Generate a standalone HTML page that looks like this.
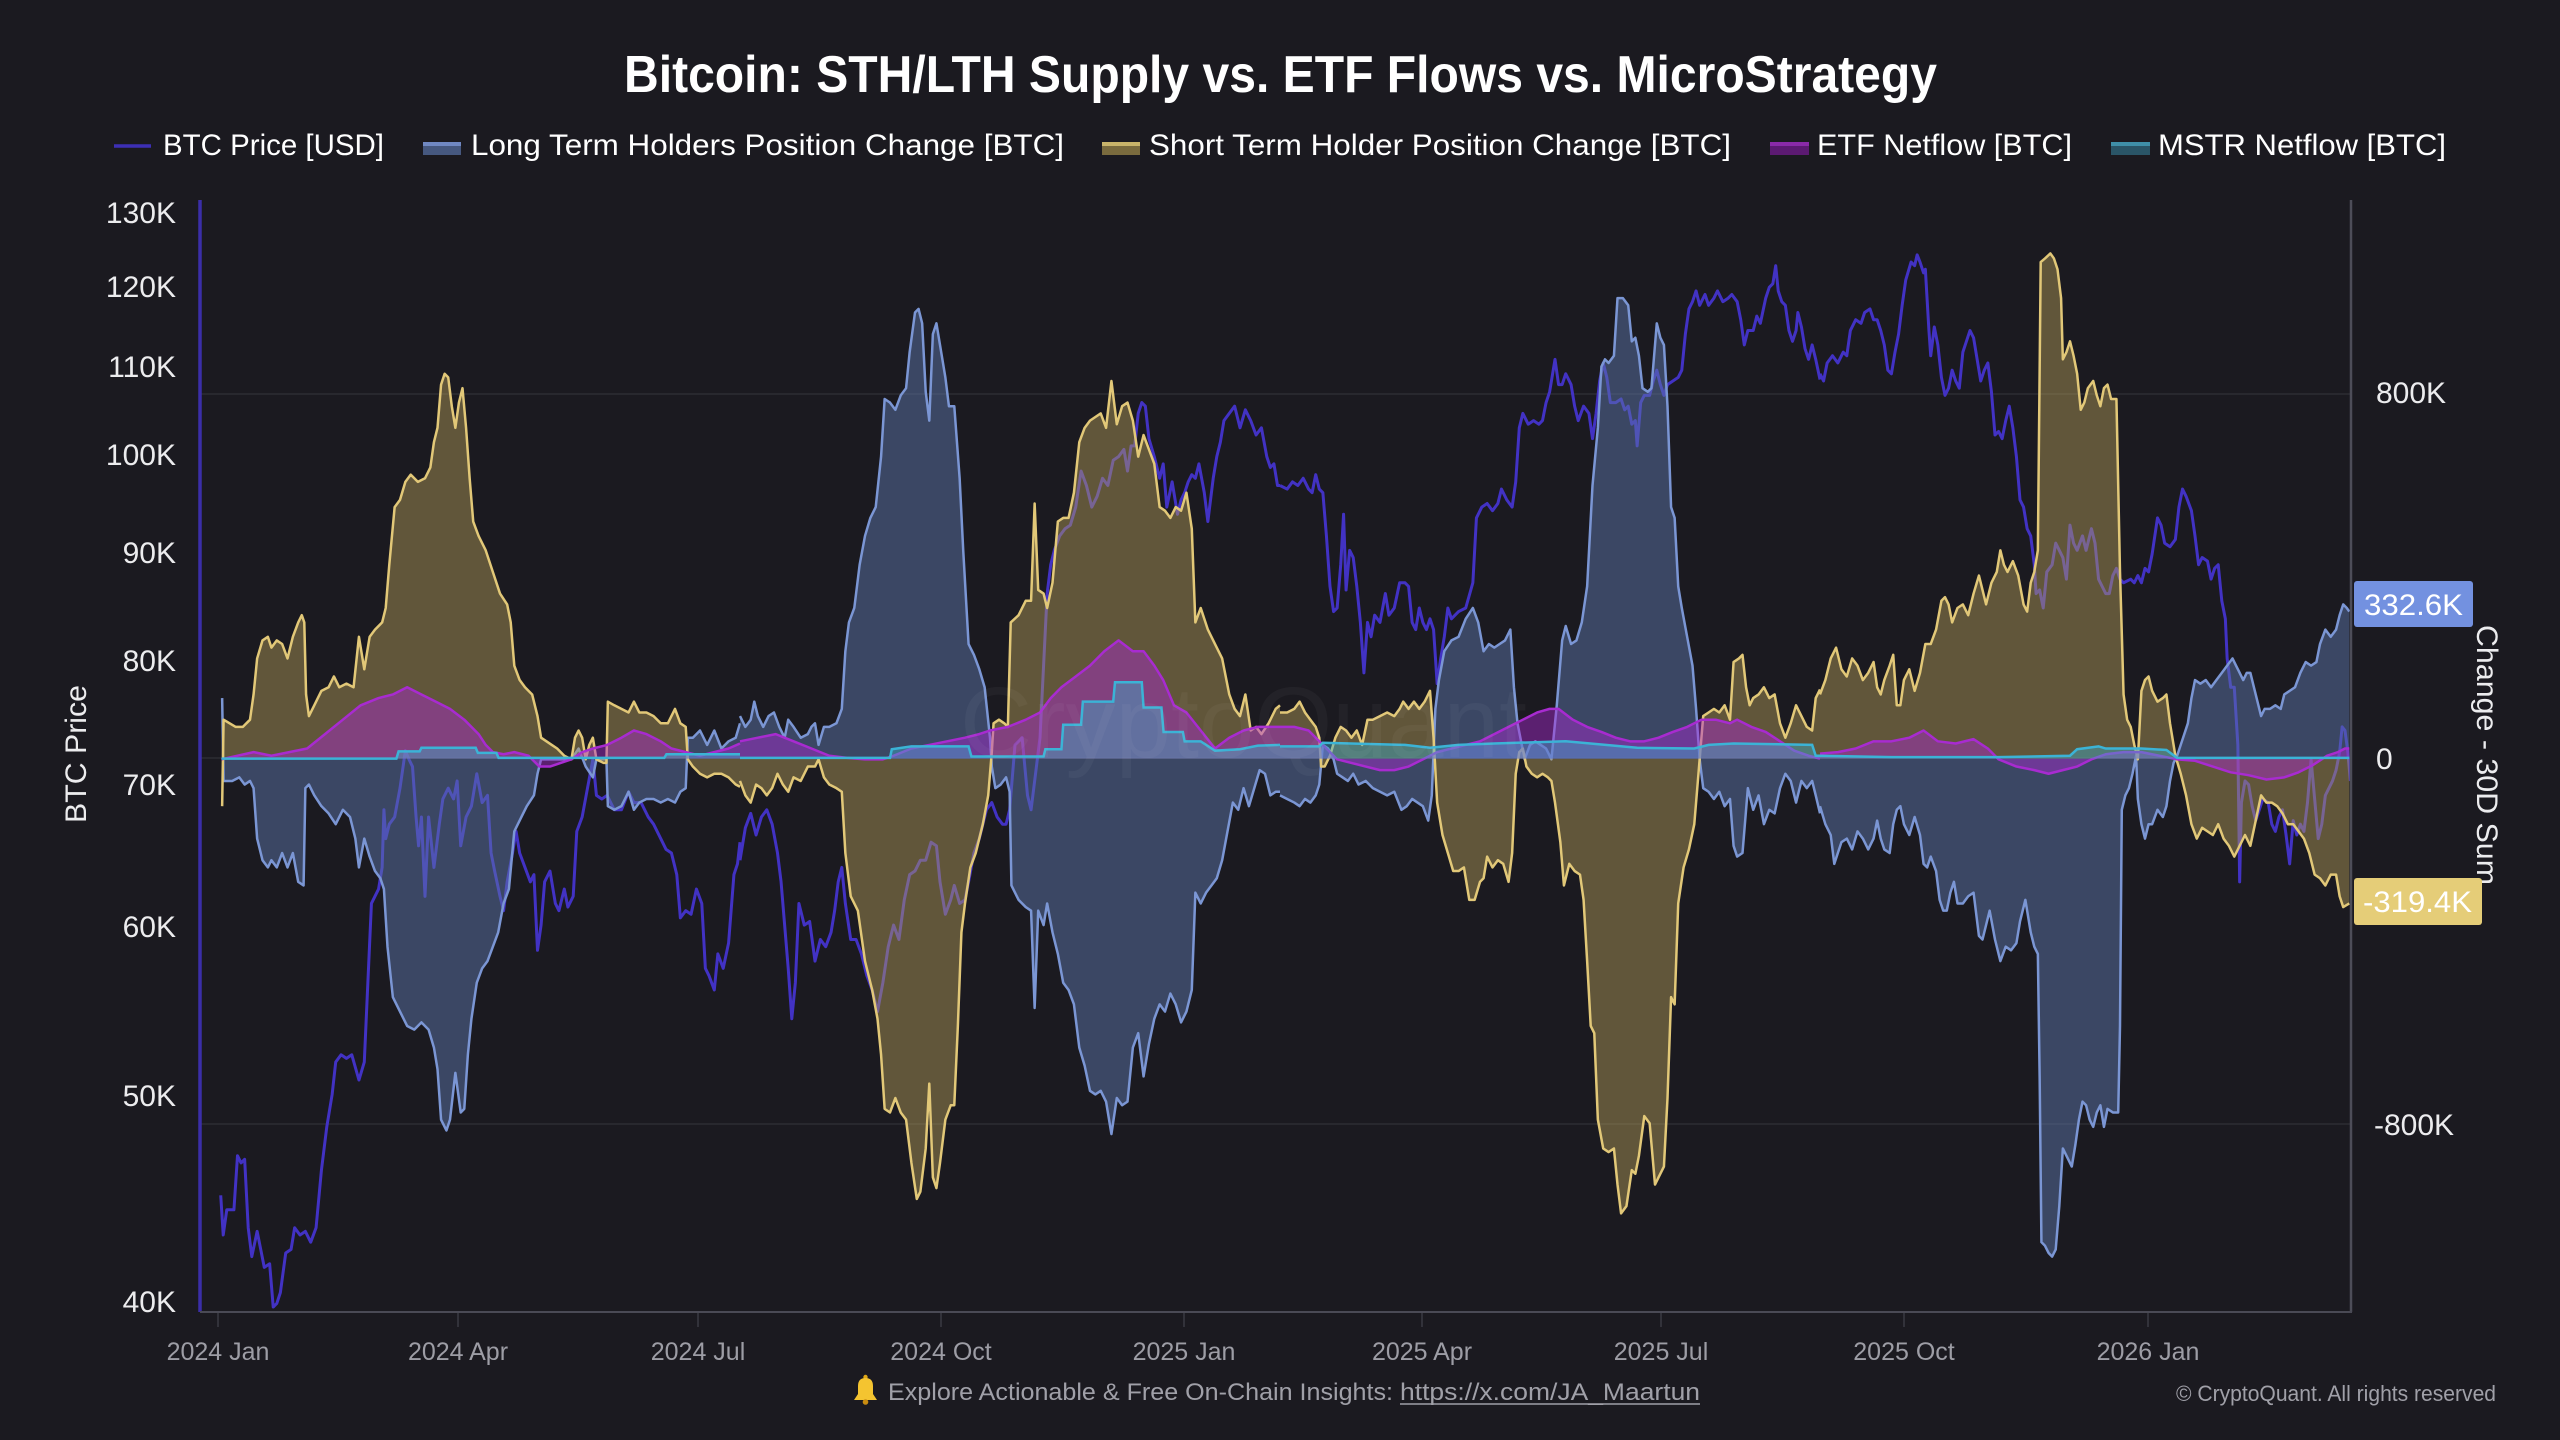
<!DOCTYPE html>
<html><head><meta charset="utf-8"><style>
html,body{margin:0;padding:0;background:#1b1a20;}
svg{display:block;}
text{font-family:"Liberation Sans",sans-serif;}
</style></head><body>
<svg width="2560" height="1440" viewBox="0 0 2560 1440" xmlns="http://www.w3.org/2000/svg">
<rect x="0" y="0" width="2560" height="1440" fill="#1b1a20"/>

<!-- Title -->
<text x="624" y="92" font-size="52" font-weight="bold" fill="#ffffff" textLength="1313" lengthAdjust="spacingAndGlyphs">Bitcoin: STH/LTH Supply vs. ETF Flows vs. MicroStrategy</text>

<!-- Legend -->
<line x1="114" y1="146" x2="151" y2="146" stroke="#3d2fb5" stroke-width="3.5"/>
<text x="163" y="155" font-size="30" fill="#ffffff" textLength="221" lengthAdjust="spacingAndGlyphs">BTC Price [USD]</text>
<rect x="423" y="142" width="38" height="13" fill="#46587f"/><rect x="423" y="142" width="38" height="4" fill="#7088c2"/>
<text x="471" y="155" font-size="30" fill="#ffffff" textLength="593" lengthAdjust="spacingAndGlyphs">Long Term Holders Position Change [BTC]</text>
<rect x="1102" y="142" width="38" height="13" fill="#7a6b3e"/><rect x="1102" y="142" width="38" height="4" fill="#c9b46a"/>
<text x="1149" y="155" font-size="30" fill="#ffffff" textLength="582" lengthAdjust="spacingAndGlyphs">Short Term Holder Position Change [BTC]</text>
<rect x="1770" y="142" width="39" height="13" fill="#5c1a72"/><rect x="1770" y="142" width="39" height="4" fill="#8a2aa8"/>
<text x="1817" y="155" font-size="30" fill="#ffffff" textLength="255" lengthAdjust="spacingAndGlyphs">ETF Netflow [BTC]</text>
<rect x="2111" y="142" width="39" height="13" fill="#2a5567"/><rect x="2111" y="142" width="39" height="4" fill="#3f8fa8"/>
<text x="2158" y="155" font-size="30" fill="#ffffff" textLength="288" lengthAdjust="spacingAndGlyphs">MSTR Netflow [BTC]</text>

<!-- Grid -->
<g stroke="#2c2c33" stroke-width="1.5">
<line x1="200" y1="394" x2="2350" y2="394"/>
<line x1="200" y1="758" x2="2350" y2="758"/>
<line x1="200" y1="1124" x2="2350" y2="1124"/>
</g>

<!-- Left axis labels -->
<g font-size="30" fill="#ececee" text-anchor="end">
<text x="176" y="223">130K</text>
<text x="176" y="297">120K</text>
<text x="176" y="377">110K</text>
<text x="176" y="465">100K</text>
<text x="176" y="563">90K</text>
<text x="176" y="671">80K</text>
<text x="176" y="795">70K</text>
<text x="176" y="937">60K</text>
<text x="176" y="1106">50K</text>
<text x="176" y="1312">40K</text>
</g>
<text transform="translate(86,754) rotate(-90)" text-anchor="middle" font-size="30" fill="#ececee" textLength="138" lengthAdjust="spacingAndGlyphs">BTC Price</text>

<!-- Right axis labels -->
<g font-size="30" fill="#ececee">
<text x="2376" y="403">800K</text>
<text x="2376" y="769">0</text>
<text x="2374" y="1135">-800K</text>
</g>

<!-- X ticks -->
<g stroke="#3a3a42" stroke-width="1.5">
<line x1="218" y1="1312" x2="218" y2="1327"/>
<line x1="458" y1="1312" x2="458" y2="1327"/>
<line x1="698" y1="1312" x2="698" y2="1327"/>
<line x1="941" y1="1312" x2="941" y2="1327"/>
<line x1="1184" y1="1312" x2="1184" y2="1327"/>
<line x1="1422" y1="1312" x2="1422" y2="1327"/>
<line x1="1661" y1="1312" x2="1661" y2="1327"/>
<line x1="1904" y1="1312" x2="1904" y2="1327"/>
<line x1="2148" y1="1312" x2="2148" y2="1327"/>
</g>
<g font-size="25" fill="#9d9da5" text-anchor="middle">
<text x="218" y="1360">2024 Jan</text>
<text x="458" y="1360">2024 Apr</text>
<text x="698" y="1360">2024 Jul</text>
<text x="941" y="1360">2024 Oct</text>
<text x="1184" y="1360">2025 Jan</text>
<text x="1422" y="1360">2025 Apr</text>
<text x="1661" y="1360">2025 Jul</text>
<text x="1904" y="1360">2025 Oct</text>
<text x="2148" y="1360">2026 Jan</text>
</g>

<!-- Series segment A -->
<g transform="translate(200,190) scale(0.357143,0.72067)">
<polyline fill="none" stroke="#4232c4" stroke-width="3" vector-effect="non-scaling-stroke" stroke-linejoin="round" points="58,1395 65,1450 75,1415 95,1415 105,1340 115,1350 125,1345 135,1440 145,1480 160,1445 170,1470 180,1495 195,1490 205,1550 215,1545 225,1530 240,1475 255,1470 265,1440 280,1450 295,1445 310,1460 325,1440 340,1360 355,1300 370,1255 380,1210 395,1200 410,1205 425,1200 445,1235 460,1210 470,1100 480,990 500,970 510,940 515,860 520,900 530,880 545,870 560,830 575,778 585,790 595,800 605,870 612,910 620,870 630,980 640,870 655,940 670,880 680,845 695,830 710,845 720,820 730,910 745,870 760,855 775,810 790,850 805,840 815,920 825,945 840,980 850,1000 860,960 875,920 885,890 895,920 910,940 925,960 935,950 945,1055 955,1020 965,960 980,945 995,990 1005,1000 1020,970 1030,995 1045,980 1055,890 1070,870 1085,830 1100,790 1110,840 1125,845 1140,840 1160,860 1180,860 1200,835 1215,850 1235,850 1255,870 1270,880 1290,900 1305,915 1320,920 1335,950 1345,1010 1360,1000 1375,1005 1390,970 1405,990 1415,1080 1425,1090 1440,1110 1450,1060 1465,1080 1480,1045 1495,950 1505,935 1512,905"/>
<polygon fill="rgba(91,116,167,0.5)" points="62,789 62,705 66,820 90,820 110,815 125,825 140,820 150,830 160,900 175,930 190,940 200,930 215,940 230,920 245,940 260,920 275,960 290,965 295,830 305,825 320,840 340,855 360,865 380,880 400,860 420,870 435,900 445,940 460,900 475,925 490,945 505,955 515,970 525,1050 540,1120 560,1140 580,1160 600,1165 620,1155 640,1165 655,1190 665,1220 675,1290 690,1305 700,1290 715,1225 730,1280 740,1275 750,1200 760,1150 775,1100 790,1080 805,1070 820,1050 835,1030 850,990 865,970 880,890 900,870 915,855 935,840 945,810 955,790 1000,790 1040,790 1060,775 1080,800 1100,815 1110,790 1138,790 1142,855 1160,860 1180,855 1200,835 1215,860 1230,850 1250,845 1270,845 1290,850 1310,845 1330,850 1345,835 1360,830 1366,760 1380,760 1400,750 1420,770 1440,750 1460,775 1480,765 1500,760 1512,740 1512,789"/>
<polyline fill="none" stroke="#7b96d4" stroke-width="2.5" vector-effect="non-scaling-stroke" stroke-linejoin="round" points="62,705 66,820 90,820 110,815 125,825 140,820 150,830 160,900 175,930 190,940 200,930 215,940 230,920 245,940 260,920 275,960 290,965 295,830 305,825 320,840 340,855 360,865 380,880 400,860 420,870 435,900 445,940 460,900 475,925 490,945 505,955 515,970 525,1050 540,1120 560,1140 580,1160 600,1165 620,1155 640,1165 655,1190 665,1220 675,1290 690,1305 700,1290 715,1225 730,1280 740,1275 750,1200 760,1150 775,1100 790,1080 805,1070 820,1050 835,1030 850,990 865,970 880,890 900,870 915,855 935,840 945,810 955,790 1000,790 1040,790 1060,775 1080,800 1100,815 1110,790 1138,790 1142,855 1160,860 1180,855 1200,835 1215,860 1230,850 1250,845 1270,845 1290,850 1310,845 1330,850 1345,835 1360,830 1366,760 1380,760 1400,750 1420,770 1440,750 1460,775 1480,765 1500,760 1512,740"/>
<polygon fill="rgba(185,160,90,0.45)" points="62,789 62,855 66,735 100,745 120,745 140,735 150,700 160,650 175,625 190,620 200,635 215,625 230,630 245,650 260,620 275,600 285,590 292,600 297,700 305,730 320,715 340,695 360,690 375,675 390,690 410,685 430,690 445,620 460,665 475,620 490,610 510,600 520,580 530,520 545,440 560,430 575,405 590,395 610,405 630,400 645,385 655,350 665,330 675,270 685,255 695,260 705,300 715,330 725,295 735,275 745,330 755,400 765,460 780,480 800,500 820,530 840,560 860,575 870,600 880,660 895,680 910,690 930,700 945,730 955,760 970,765 985,770 1000,775 1020,785 1040,790 1050,760 1060,750 1070,760 1080,790 1090,770 1100,760 1110,790 1130,795 1138,795 1142,710 1160,715 1180,720 1200,725 1215,710 1230,725 1250,725 1270,730 1290,740 1310,740 1330,720 1345,740 1360,745 1366,790 1380,800 1400,810 1420,815 1440,810 1460,810 1480,815 1500,825 1512,828 1512,789"/>
<polyline fill="none" stroke="#e2c878" stroke-width="2.5" vector-effect="non-scaling-stroke" stroke-linejoin="round" points="62,855 66,735 100,745 120,745 140,735 150,700 160,650 175,625 190,620 200,635 215,625 230,630 245,650 260,620 275,600 285,590 292,600 297,700 305,730 320,715 340,695 360,690 375,675 390,690 410,685 430,690 445,620 460,665 475,620 490,610 510,600 520,580 530,520 545,440 560,430 575,405 590,395 610,405 630,400 645,385 655,350 665,330 675,270 685,255 695,260 705,300 715,330 725,295 735,275 745,330 755,400 765,460 780,480 800,500 820,530 840,560 860,575 870,600 880,660 895,680 910,690 930,700 945,730 955,760 970,765 985,770 1000,775 1020,785 1040,790 1050,760 1060,750 1070,760 1080,790 1090,770 1100,760 1110,790 1130,795 1138,795 1142,710 1160,715 1180,720 1200,725 1215,710 1230,725 1250,725 1270,730 1290,740 1310,740 1330,720 1345,740 1360,745 1366,790 1380,800 1400,810 1420,815 1440,810 1460,810 1480,815 1500,825 1512,828"/>
<polygon fill="rgba(170,40,210,0.45)" points="60,789 60,790 150,780 200,785 250,780 300,775 350,755 400,735 450,715 500,705 540,700 580,690 620,700 660,710 700,720 740,735 780,755 800,770 820,780 850,783 880,780 920,785 950,800 980,800 1010,795 1040,790 1070,780 1100,775 1140,770 1180,760 1215,750 1250,755 1290,765 1320,775 1360,780 1400,785 1440,780 1480,775 1512,768 1512,789"/>
<polyline fill="none" stroke="#a82bd0" stroke-width="2.5" vector-effect="non-scaling-stroke" stroke-linejoin="round" points="60,790 150,780 200,785 250,780 300,775 350,755 400,735 450,715 500,705 540,700 580,690 620,700 660,710 700,720 740,735 780,755 800,770 820,780 850,783 880,780 920,785 950,800 980,800 1010,795 1040,790 1070,780 1100,775 1140,770 1180,760 1215,750 1250,755 1290,765 1320,775 1360,780 1400,785 1440,780 1480,775 1512,768"/>
<polygon fill="rgba(60,170,200,0.45)" points="60,789 550,789 556,779 615,779 620,774 772,774 778,781 830,781 836,788 1300,788 1306,783 1512,783 1512,789"/>
<polyline fill="none" stroke="#3bb3d6" stroke-width="2.5" vector-effect="non-scaling-stroke" points="60,789 550,789 556,779 615,779 620,774 772,774 778,781 830,781 836,788 1300,788 1306,783 1512,783"/>
</g>

<!-- Series segment B -->
<g transform="translate(740,190) scale(0.357143,0.72067)">
<polyline fill="none" stroke="#4232c4" stroke-width="3" vector-effect="non-scaling-stroke" stroke-linejoin="round" points="0,930 15,885 30,865 45,895 60,870 75,860 90,880 105,920 115,960 125,1020 135,1080 145,1150 155,1100 165,990 180,1020 195,1015 210,1070 225,1040 240,1050 255,1030 265,1000 275,960 285,940 295,990 310,1040 325,1040 340,1060 355,1090 370,1110 385,1140 400,1100 415,1050 430,1020 445,1040 460,985 475,950 490,945 505,930 520,930 535,905 550,910 560,960 575,1005 590,985 600,965 615,990 630,985 640,960 655,920 670,900 690,860 705,850 720,870 735,880 745,880 755,860 770,770 790,760 805,840 815,860 830,800 840,760 850,660 860,560 870,520 880,500 895,480 910,470 925,465 940,440 955,390 970,410 985,440 1000,425 1015,400 1030,410 1045,375 1060,370 1075,360 1085,390 1095,355 1105,355 1115,310 1125,295 1135,300 1145,345 1160,370 1175,400 1185,380 1195,440 1210,405 1225,450 1235,430 1245,420 1255,405 1265,395 1275,400 1285,380 1300,420 1310,460 1325,400 1335,370 1345,350 1355,320 1370,310 1385,300 1400,330 1415,305 1430,320 1445,340 1460,330 1475,370 1485,385 1495,380 1505,410 1512,410"/>
<polygon fill="rgba(91,116,167,0.5)" points="0,789 0,730 15,745 30,735 40,710 50,730 65,745 80,730 95,725 110,745 125,760 135,735 150,745 170,760 190,755 200,745 210,740 220,770 235,745 250,745 270,740 285,720 295,640 305,600 320,580 335,520 350,480 365,455 380,440 395,370 405,290 420,295 435,305 450,285 465,275 475,225 490,170 500,165 510,185 520,280 530,320 540,200 550,185 560,215 575,260 585,300 600,300 615,400 625,500 640,630 655,645 670,665 685,690 700,760 705,800 715,830 730,825 745,815 755,835 760,965 780,985 800,995 815,1000 825,1135 835,1000 850,1020 860,990 875,1030 890,1060 905,1100 920,1110 935,1130 950,1190 965,1215 980,1250 995,1255 1010,1250 1025,1265 1040,1310 1055,1260 1070,1270 1085,1265 1100,1190 1115,1170 1130,1230 1145,1185 1160,1150 1175,1130 1190,1140 1205,1115 1220,1130 1235,1155 1250,1140 1265,1110 1275,975 1290,990 1305,975 1320,965 1335,955 1350,930 1365,890 1380,850 1395,860 1410,830 1425,855 1440,830 1455,805 1470,810 1485,840 1500,835 1512,835 1512,789"/>
<polyline fill="none" stroke="#7b96d4" stroke-width="2.5" vector-effect="non-scaling-stroke" stroke-linejoin="round" points="0,730 15,745 30,735 40,710 50,730 65,745 80,730 95,725 110,745 125,760 135,735 150,745 170,760 190,755 200,745 210,740 220,770 235,745 250,745 270,740 285,720 295,640 305,600 320,580 335,520 350,480 365,455 380,440 395,370 405,290 420,295 435,305 450,285 465,275 475,225 490,170 500,165 510,185 520,280 530,320 540,200 550,185 560,215 575,260 585,300 600,300 615,400 625,500 640,630 655,645 670,665 685,690 700,760 705,800 715,830 730,825 745,815 755,835 760,965 780,985 800,995 815,1000 825,1135 835,1000 850,1020 860,990 875,1030 890,1060 905,1100 920,1110 935,1130 950,1190 965,1215 980,1250 995,1255 1010,1250 1025,1265 1040,1310 1055,1260 1070,1270 1085,1265 1100,1190 1115,1170 1130,1230 1145,1185 1160,1150 1175,1130 1190,1140 1205,1115 1220,1130 1235,1155 1250,1140 1265,1110 1275,975 1290,990 1305,975 1320,965 1335,955 1350,930 1365,890 1380,850 1395,860 1410,830 1425,855 1440,830 1455,805 1470,810 1485,840 1500,835 1512,835"/>
<polygon fill="rgba(185,160,90,0.45)" points="0,789 0,820 15,840 30,850 45,825 60,830 75,840 90,830 105,810 120,825 135,835 150,815 170,820 190,800 210,800 220,790 235,815 250,825 270,830 285,835 295,920 310,980 330,1000 350,1070 370,1110 385,1150 395,1200 405,1275 420,1280 435,1260 450,1280 465,1290 480,1350 495,1400 505,1390 520,1330 530,1240 540,1370 550,1385 560,1350 575,1290 590,1270 600,1270 610,1160 620,1030 630,990 645,940 660,920 680,880 695,840 705,780 710,740 725,735 740,740 750,745 758,600 780,590 800,570 815,570 825,435 835,555 850,560 860,580 875,545 890,460 905,455 920,455 935,420 950,350 965,330 980,320 995,315 1010,310 1025,330 1040,265 1055,325 1070,300 1085,295 1100,320 1115,370 1130,340 1145,360 1160,380 1175,440 1190,445 1205,455 1220,440 1235,445 1250,420 1265,470 1275,600 1290,580 1310,610 1330,630 1350,650 1370,700 1385,720 1400,730 1415,700 1430,750 1445,745 1460,755 1480,740 1500,720 1512,715 1512,789"/>
<polyline fill="none" stroke="#e2c878" stroke-width="2.5" vector-effect="non-scaling-stroke" stroke-linejoin="round" points="0,820 15,840 30,850 45,825 60,830 75,840 90,830 105,810 120,825 135,835 150,815 170,820 190,800 210,800 220,790 235,815 250,825 270,830 285,835 295,920 310,980 330,1000 350,1070 370,1110 385,1150 395,1200 405,1275 420,1280 435,1260 450,1280 465,1290 480,1350 495,1400 505,1390 520,1330 530,1240 540,1370 550,1385 560,1350 575,1290 590,1270 600,1270 610,1160 620,1030 630,990 645,940 660,920 680,880 695,840 705,780 710,740 725,735 740,740 750,745 758,600 780,590 800,570 815,570 825,435 835,555 850,560 860,580 875,545 890,460 905,455 920,455 935,420 950,350 965,330 980,320 995,315 1010,310 1025,330 1040,265 1055,325 1070,300 1085,295 1100,320 1115,370 1130,340 1145,360 1160,380 1175,440 1190,445 1205,455 1220,440 1235,445 1250,420 1265,470 1275,600 1290,580 1310,610 1330,630 1350,650 1370,700 1385,720 1400,730 1415,700 1430,750 1445,745 1460,755 1480,740 1500,720 1512,715"/>
<polygon fill="rgba(170,40,210,0.45)" points="0,789 0,765 50,760 100,755 150,765 200,775 250,785 300,788 350,790 400,790 430,785 480,775 530,770 580,765 630,760 670,755 700,750 750,745 800,735 840,725 870,705 900,690 940,675 980,660 1020,640 1060,625 1100,640 1130,640 1160,660 1185,680 1215,715 1250,725 1290,750 1330,775 1370,760 1410,750 1450,745 1512,745 1512,789"/>
<polyline fill="none" stroke="#a82bd0" stroke-width="2.5" vector-effect="non-scaling-stroke" stroke-linejoin="round" points="0,765 50,760 100,755 150,765 200,775 250,785 300,788 350,790 400,790 430,785 480,775 530,770 580,765 630,760 670,755 700,750 750,745 800,735 840,725 870,705 900,690 940,675 980,660 1020,640 1060,625 1100,640 1130,640 1160,660 1185,680 1215,715 1250,725 1290,750 1330,775 1370,760 1410,750 1450,745 1512,745"/>
<polygon fill="rgba(60,170,200,0.45)" points="0,789 0,788 420,788 425,776 480,772 640,772 648,786 850,786 855,776 900,776 905,742 955,742 960,710 1045,710 1050,683 1125,683 1130,718 1180,718 1186,752 1240,752 1245,765 1290,765 1330,778 1400,776 1450,771 1512,770 1512,789"/>
<polyline fill="none" stroke="#3bb3d6" stroke-width="2.5" vector-effect="non-scaling-stroke" points="0,788 420,788 425,776 480,772 640,772 648,786 850,786 855,776 900,776 905,742 955,742 960,710 1045,710 1050,683 1125,683 1130,718 1180,718 1186,752 1240,752 1245,765 1290,765 1330,778 1400,776 1450,771 1512,770"/>
</g>

<!-- Series segment C -->
<g transform="translate(1280,190) scale(0.357143,0.72067)">
<polyline fill="none" stroke="#4232c4" stroke-width="3" vector-effect="non-scaling-stroke" stroke-linejoin="round" points="0,410 20,415 35,405 50,410 65,400 80,415 90,420 100,395 110,415 120,420 130,480 140,550 150,585 160,580 170,520 178,450 185,555 195,500 205,510 215,550 225,600 235,670 245,600 255,620 265,590 280,600 295,560 305,590 320,580 335,545 350,545 360,550 370,600 380,610 390,580 400,600 410,610 420,595 430,610 440,685 450,650 460,620 470,580 480,595 500,585 520,580 540,545 550,455 565,440 580,435 595,445 610,435 620,415 635,430 650,440 660,405 670,330 680,310 695,325 710,320 725,325 735,320 745,295 755,280 770,235 780,270 790,270 800,255 815,270 825,300 835,320 850,300 865,310 875,345 885,310 895,265 905,240 915,260 925,295 940,295 955,290 965,305 975,300 985,325 995,320 1000,355 1010,295 1020,285 1035,285 1045,265 1055,250 1065,270 1075,285 1085,270 1100,265 1115,260 1125,250 1135,200 1145,165 1155,155 1165,140 1175,160 1190,145 1200,160 1215,150 1225,140 1240,155 1255,150 1265,145 1280,155 1290,180 1300,215 1310,195 1325,195 1335,175 1345,185 1360,150 1370,135 1380,130 1388,105 1395,140 1405,155 1415,160 1425,195 1435,210 1445,195 1450,170 1460,190 1470,220 1480,235 1490,215 1500,235 1512,263"/>
<polygon fill="rgba(91,116,167,0.5)" points="0,789 0,840 20,845 40,850 55,855 70,845 85,850 100,840 110,825 120,770 135,775 150,790 160,810 175,815 190,820 205,810 220,825 240,820 260,830 280,835 300,840 320,835 340,860 355,855 370,845 385,850 400,855 415,875 425,840 435,720 445,680 460,640 480,625 500,620 520,595 540,580 555,600 570,640 585,630 600,635 615,630 630,625 645,610 655,690 665,740 675,765 685,790 700,770 715,765 730,770 745,775 760,790 775,715 790,625 800,605 815,630 830,625 845,600 860,550 875,410 890,330 900,245 910,235 920,240 935,230 945,150 960,150 975,160 985,210 995,205 1005,230 1015,275 1030,280 1040,275 1055,185 1065,205 1075,215 1085,300 1095,440 1105,455 1115,550 1125,580 1140,620 1155,660 1165,720 1175,790 1185,830 1200,835 1215,845 1230,835 1245,855 1260,845 1270,910 1280,925 1295,920 1310,830 1325,860 1340,840 1355,880 1370,860 1385,865 1400,830 1415,810 1430,820 1445,850 1460,820 1475,830 1490,820 1500,840 1512,865 1512,789"/>
<polyline fill="none" stroke="#7b96d4" stroke-width="2.5" vector-effect="non-scaling-stroke" stroke-linejoin="round" points="0,840 20,845 40,850 55,855 70,845 85,850 100,840 110,825 120,770 135,775 150,790 160,810 175,815 190,820 205,810 220,825 240,820 260,830 280,835 300,840 320,835 340,860 355,855 370,845 385,850 400,855 415,875 425,840 435,720 445,680 460,640 480,625 500,620 520,595 540,580 555,600 570,640 585,630 600,635 615,630 630,625 645,610 655,690 665,740 675,765 685,790 700,770 715,765 730,770 745,775 760,790 775,715 790,625 800,605 815,630 830,625 845,600 860,550 875,410 890,330 900,245 910,235 920,240 935,230 945,150 960,150 975,160 985,210 995,205 1005,230 1015,275 1030,280 1040,275 1055,185 1065,205 1075,215 1085,300 1095,440 1105,455 1115,550 1125,580 1140,620 1155,660 1165,720 1175,790 1185,830 1200,835 1215,845 1230,835 1245,855 1260,845 1270,910 1280,925 1295,920 1310,830 1325,860 1340,840 1355,880 1370,860 1385,865 1400,830 1415,810 1430,820 1445,850 1460,820 1475,830 1490,820 1500,840 1512,865"/>
<polygon fill="rgba(185,160,90,0.45)" points="0,789 0,725 20,725 40,720 55,710 70,725 85,735 100,745 110,760 115,800 125,800 140,785 155,760 170,745 185,750 200,760 215,750 230,770 245,735 260,735 280,730 300,725 320,730 335,720 345,710 360,720 375,710 390,720 405,710 420,695 430,760 440,850 455,895 470,920 485,945 500,945 515,940 530,985 545,985 560,960 570,955 580,925 595,940 610,930 625,935 640,960 650,920 660,810 670,780 680,775 690,800 705,810 720,815 735,810 750,815 760,820 770,850 785,905 795,965 810,935 825,945 840,950 850,985 860,1070 870,1160 880,1170 890,1290 905,1330 920,1335 935,1330 945,1380 955,1420 970,1410 985,1360 995,1365 1005,1340 1020,1285 1035,1295 1050,1380 1060,1370 1075,1355 1085,1260 1095,1120 1105,1130 1115,990 1130,940 1145,915 1160,880 1175,790 1185,730 1200,725 1215,720 1230,725 1245,715 1260,735 1270,655 1285,650 1295,645 1305,690 1315,715 1325,705 1340,700 1355,690 1370,705 1385,700 1400,740 1415,760 1430,740 1445,715 1460,730 1475,745 1490,750 1500,705 1512,693 1512,789"/>
<polyline fill="none" stroke="#e2c878" stroke-width="2.5" vector-effect="non-scaling-stroke" stroke-linejoin="round" points="0,725 20,725 40,720 55,710 70,725 85,735 100,745 110,760 115,800 125,800 140,785 155,760 170,745 185,750 200,760 215,750 230,770 245,735 260,735 280,730 300,725 320,730 335,720 345,710 360,720 375,710 390,720 405,710 420,695 430,760 440,850 455,895 470,920 485,945 500,945 515,940 530,985 545,985 560,960 570,955 580,925 595,940 610,930 625,935 640,960 650,920 660,810 670,780 680,775 690,800 705,810 720,815 735,810 750,815 760,820 770,850 785,905 795,965 810,935 825,945 840,950 850,985 860,1070 870,1160 880,1170 890,1290 905,1330 920,1335 935,1330 945,1380 955,1420 970,1410 985,1360 995,1365 1005,1340 1020,1285 1035,1295 1050,1380 1060,1370 1075,1355 1085,1260 1095,1120 1105,1130 1115,990 1130,940 1145,915 1160,880 1175,790 1185,730 1200,725 1215,720 1230,725 1245,715 1260,735 1270,655 1285,650 1295,645 1305,690 1315,715 1325,705 1340,700 1355,690 1370,705 1385,700 1400,740 1415,760 1430,740 1445,715 1460,730 1475,745 1490,750 1500,705 1512,693"/>
<polygon fill="rgba(170,40,210,0.45)" points="0,789 0,745 40,745 80,750 120,770 160,790 200,795 240,800 280,805 320,805 360,800 400,790 440,780 480,775 520,770 560,765 600,755 640,745 680,735 720,725 755,720 780,720 820,735 860,745 900,752 940,760 980,765 1020,765 1060,760 1100,752 1140,745 1180,735 1220,735 1260,740 1280,735 1320,745 1360,752 1400,765 1440,778 1480,785 1512,789"/>
<polyline fill="none" stroke="#a82bd0" stroke-width="2.5" vector-effect="non-scaling-stroke" stroke-linejoin="round" points="0,745 40,745 80,750 120,770 160,790 200,795 240,800 280,805 320,805 360,800 400,790 440,780 480,775 520,770 560,765 600,755 640,745 680,735 720,725 755,720 780,720 820,735 860,745 900,752 940,760 980,765 1020,765 1060,760 1100,752 1140,745 1180,735 1220,735 1260,740 1280,735 1320,745 1360,752 1400,765 1440,778 1480,785 1512,789"/>
<polygon fill="rgba(60,170,200,0.45)" points="0,789 0,772 110,772 120,767 350,770 420,774 500,770 600,768 800,765 1000,774 1160,775 1200,770 1270,768 1490,770 1500,785 1512,785 1512,789"/>
<polyline fill="none" stroke="#3bb3d6" stroke-width="2.5" vector-effect="non-scaling-stroke" points="0,772 110,772 120,767 350,770 420,774 500,770 600,768 800,765 1000,774 1160,775 1200,770 1270,768 1490,770 1500,785 1512,785"/>
</g>

<!-- Series segment D -->
<g transform="translate(1820,190) scale(0.357143,0.72067)">
<polyline fill="none" stroke="#4232c4" stroke-width="3" vector-effect="non-scaling-stroke" stroke-linejoin="round" points="0,255 10,265 20,240 35,230 50,240 65,225 75,230 85,195 100,180 115,185 125,170 140,165 150,180 160,180 170,195 180,215 190,250 200,255 210,225 220,200 230,160 240,125 255,100 265,105 272,90 280,100 290,115 295,110 305,195 310,230 320,190 330,215 340,260 350,285 360,275 370,250 380,265 390,275 400,225 410,210 420,195 430,205 440,235 450,265 460,250 470,240 480,280 490,340 500,335 510,345 520,320 530,300 540,330 550,370 560,430 570,440 580,470 590,480 600,520 605,560 615,555 625,580 635,530 650,520 660,490 670,500 680,510 690,540 700,465 710,490 720,500 735,480 745,500 760,470 770,490 780,540 790,550 800,560 810,560 820,535 830,525 840,540 850,545 870,540 880,545 890,535 900,545 910,525 920,530 930,505 945,455 955,465 965,490 980,495 995,485 1005,440 1015,415 1025,425 1040,445 1050,480 1060,520 1070,510 1085,515 1095,540 1105,525 1115,520 1125,570 1135,595 1140,650 1150,690 1160,690 1170,770 1175,960 1180,850 1190,820 1200,825 1210,855 1220,875 1230,860 1240,845 1255,850 1265,880 1275,890 1285,870 1295,860 1305,895 1315,935 1325,875 1335,895 1345,880 1355,890 1365,850 1375,790 1385,845 1395,900 1405,880 1415,840 1425,830 1435,820 1445,805 1455,780 1462,745 1470,750 1478,780 1485,820"/>
<polygon fill="rgba(91,116,167,0.5)" points="0,789 0,855 15,880 30,895 40,935 50,920 60,905 75,900 90,915 105,890 120,900 135,915 150,900 160,875 170,900 180,915 195,920 205,880 215,860 225,855 235,880 250,895 265,870 280,895 290,935 300,940 310,925 325,945 335,985 345,1000 355,1000 365,975 375,960 385,990 400,990 415,980 430,975 445,1035 455,1040 465,1020 475,1000 490,1040 505,1070 520,1050 535,1055 550,1045 560,1015 575,985 590,1030 600,1050 610,1060 615,1230 620,1460 630,1465 640,1475 650,1480 660,1470 670,1410 680,1330 695,1345 705,1355 715,1325 725,1290 735,1265 745,1270 755,1290 765,1300 775,1280 785,1270 795,1300 805,1275 820,1280 835,1280 840,1160 845,860 855,840 865,830 875,810 885,785 890,845 900,880 910,900 920,880 930,880 945,860 960,870 970,855 980,820 990,795 1000,785 1010,770 1020,755 1030,740 1040,705 1050,680 1065,685 1080,680 1095,690 1110,680 1125,670 1140,660 1155,650 1165,660 1175,670 1185,680 1195,670 1205,670 1215,690 1225,710 1235,730 1245,720 1260,720 1275,715 1290,720 1300,700 1315,695 1330,690 1345,670 1360,655 1375,660 1390,655 1400,630 1415,610 1430,620 1445,610 1455,590 1465,575 1475,580 1482,585 1482,789"/>
<polyline fill="none" stroke="#7b96d4" stroke-width="2.5" vector-effect="non-scaling-stroke" stroke-linejoin="round" points="0,855 15,880 30,895 40,935 50,920 60,905 75,900 90,915 105,890 120,900 135,915 150,900 160,875 170,900 180,915 195,920 205,880 215,860 225,855 235,880 250,895 265,870 280,895 290,935 300,940 310,925 325,945 335,985 345,1000 355,1000 365,975 375,960 385,990 400,990 415,980 430,975 445,1035 455,1040 465,1020 475,1000 490,1040 505,1070 520,1050 535,1055 550,1045 560,1015 575,985 590,1030 600,1050 610,1060 615,1230 620,1460 630,1465 640,1475 650,1480 660,1470 670,1410 680,1330 695,1345 705,1355 715,1325 725,1290 735,1265 745,1270 755,1290 765,1300 775,1280 785,1270 795,1300 805,1275 820,1280 835,1280 840,1160 845,860 855,840 865,830 875,810 885,785 890,845 900,880 910,900 920,880 930,880 945,860 960,870 970,855 980,820 990,795 1000,785 1010,770 1020,755 1030,740 1040,705 1050,680 1065,685 1080,680 1095,690 1110,680 1125,670 1140,660 1155,650 1165,660 1175,670 1185,680 1195,670 1205,670 1215,690 1225,710 1235,730 1245,720 1260,720 1275,715 1290,720 1300,700 1315,695 1330,690 1345,670 1360,655 1375,660 1390,655 1400,630 1415,610 1430,620 1445,610 1455,590 1465,575 1475,580 1482,585"/>
<polygon fill="rgba(185,160,90,0.45)" points="0,789 0,700 15,680 30,650 45,635 60,665 75,675 90,650 105,660 120,680 135,670 150,655 160,690 170,700 180,680 195,660 205,645 215,715 225,715 235,680 250,665 265,695 280,670 295,630 310,630 325,610 340,570 350,565 360,575 370,600 385,580 400,575 415,590 430,560 445,535 455,555 465,575 480,545 495,530 505,500 515,520 525,530 540,515 555,535 570,575 580,585 590,545 600,530 610,500 618,100 630,95 645,88 655,95 665,110 675,150 680,235 690,225 700,210 710,230 720,255 730,305 740,295 750,275 765,265 775,285 785,300 795,275 805,270 815,290 830,290 840,530 850,700 860,735 870,745 880,770 890,790 900,695 910,680 920,675 930,695 945,710 960,705 970,700 980,740 995,785 1010,810 1025,840 1040,880 1055,900 1070,885 1085,890 1100,895 1115,880 1130,900 1145,910 1160,925 1175,910 1190,895 1205,910 1220,875 1235,840 1250,850 1265,850 1280,855 1295,865 1310,880 1325,880 1340,890 1355,900 1370,920 1385,950 1400,955 1415,965 1430,950 1445,950 1455,980 1465,995 1482,990 1482,789"/>
<polyline fill="none" stroke="#e2c878" stroke-width="2.5" vector-effect="non-scaling-stroke" stroke-linejoin="round" points="0,700 15,680 30,650 45,635 60,665 75,675 90,650 105,660 120,680 135,670 150,655 160,690 170,700 180,680 195,660 205,645 215,715 225,715 235,680 250,665 265,695 280,670 295,630 310,630 325,610 340,570 350,565 360,575 370,600 385,580 400,575 415,590 430,560 445,535 455,555 465,575 480,545 495,530 505,500 515,520 525,530 540,515 555,535 570,575 580,585 590,545 600,530 610,500 618,100 630,95 645,88 655,95 665,110 675,150 680,235 690,225 700,210 710,230 720,255 730,305 740,295 750,275 765,265 775,285 785,300 795,275 805,270 815,290 830,290 840,530 850,700 860,735 870,745 880,770 890,790 900,695 910,680 920,675 930,695 945,710 960,705 970,700 980,740 995,785 1010,810 1025,840 1040,880 1055,900 1070,885 1085,890 1100,895 1115,880 1130,900 1145,910 1160,925 1175,910 1190,895 1205,910 1220,875 1235,840 1250,850 1265,850 1280,855 1295,865 1310,880 1325,880 1340,890 1355,900 1370,920 1385,950 1400,955 1415,965 1430,950 1445,950 1455,980 1465,995 1482,990"/>
<polygon fill="rgba(170,40,210,0.45)" points="0,789 0,782 50,780 100,775 150,765 200,765 250,760 290,750 330,765 380,768 430,762 470,775 500,790 550,800 600,805 640,810 680,805 720,800 760,790 800,783 850,780 900,780 950,785 1000,790 1050,792 1100,800 1150,808 1200,812 1250,818 1300,815 1340,808 1380,798 1420,785 1450,780 1470,775 1482,775 1482,789"/>
<polyline fill="none" stroke="#a82bd0" stroke-width="2.5" vector-effect="non-scaling-stroke" stroke-linejoin="round" points="0,782 50,780 100,775 150,765 200,765 250,760 290,750 330,765 380,768 430,762 470,775 500,790 550,800 600,805 640,810 680,805 720,800 760,790 800,783 850,780 900,780 950,785 1000,790 1050,792 1100,800 1150,808 1200,812 1250,818 1300,815 1340,808 1380,798 1420,785 1450,780 1470,775 1482,775"/>
<polygon fill="rgba(60,170,200,0.45)" points="0,789 0,785 200,787 500,787 700,785 720,776 780,772 800,775 900,775 970,777 1000,788 1482,788 1482,789"/>
<polyline fill="none" stroke="#3bb3d6" stroke-width="2.5" vector-effect="non-scaling-stroke" points="0,785 200,787 500,787 700,785 720,776 780,772 800,775 900,775 970,777 1000,788 1482,788"/>
</g>

<!-- Watermark -->
<text x="960" y="757" font-size="100" fill="#ffffff" fill-opacity="0.04">CryptoQuant</text>

<!-- Axes -->
<line x1="200" y1="200" x2="200" y2="1312" stroke="#3b2ea8" stroke-width="3.5"/>
<line x1="2351" y1="200" x2="2351" y2="1312" stroke="#4d4d58" stroke-width="2.5"/>
<line x1="200" y1="1312" x2="2352" y2="1312" stroke="#4a4a55" stroke-width="2"/>

<!-- Right axis title -->
<text transform="translate(2477,755) rotate(90)" text-anchor="middle" font-size="30" fill="#ececee" textLength="260" lengthAdjust="spacingAndGlyphs">Change - 30D Sum</text>

<!-- Value tags -->
<rect x="2354" y="581" width="119" height="46" rx="3" fill="#7391e0"/>
<text x="2364" y="615" font-size="30" fill="#ffffff" textLength="99" lengthAdjust="spacingAndGlyphs">332.6K</text>
<rect x="2354" y="878" width="128" height="47" rx="3" fill="#e5cd78"/>
<text x="2363" y="912" font-size="30" fill="#ffffff" textLength="109" lengthAdjust="spacingAndGlyphs">-319.4K</text>

<!-- Footer -->
<g>
<circle cx="865.5" cy="1377" r="2.2" fill="#e0a818"/>
<path d="M854,1400 L877,1400 L873,1394 L873,1386 Q873,1378 865.5,1378 Q858,1378 858,1386 L858,1394 Z" fill="#f4c430"/>
<circle cx="865.5" cy="1402" r="2.8" fill="#c98c10"/>
</g>
<text x="888" y="1400" font-size="24" fill="#a0a0a8" textLength="505" lengthAdjust="spacingAndGlyphs">Explore Actionable &amp; Free On-Chain Insights:</text>
<text x="1400" y="1400" font-size="24" fill="#a0a0a8" textLength="300" lengthAdjust="spacingAndGlyphs">https://x.com/JA_Maartun</text>
<line x1="1400" y1="1404" x2="1700" y2="1404" stroke="#a0a0a8" stroke-width="1.5"/>
<text x="2176" y="1401" font-size="22" fill="#a0a0a8" textLength="320" lengthAdjust="spacingAndGlyphs">© CryptoQuant. All rights reserved</text>
</svg>
</body></html>
